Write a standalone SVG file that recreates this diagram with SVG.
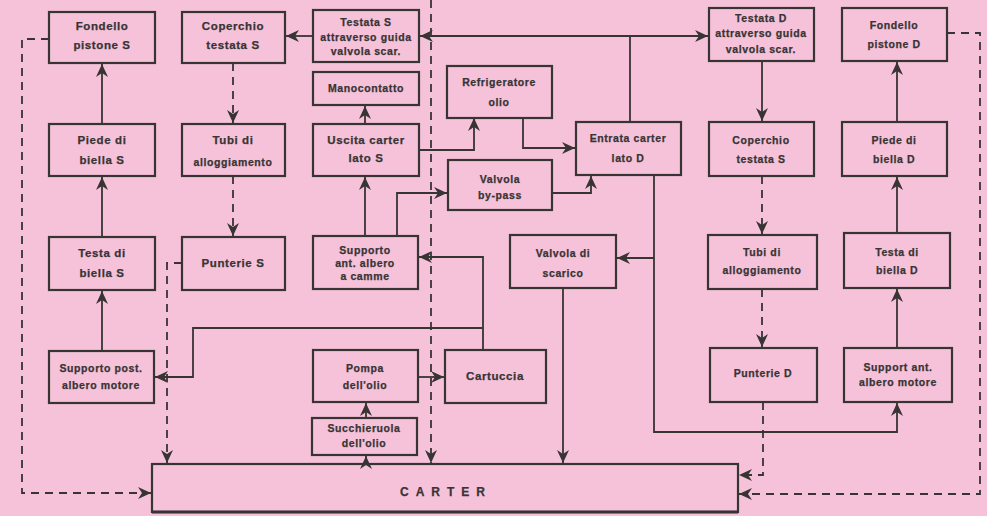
<svg xmlns="http://www.w3.org/2000/svg" width="987" height="516" viewBox="0 0 987 516">
<defs>
<style>
.bg{fill:#f5c2d9}
.box{fill:none;stroke:#383434;stroke-width:2.2}
.ln{fill:none;stroke:#383434;stroke-width:1.8}
.ds{fill:none;stroke:#383434;stroke-width:1.8;stroke-dasharray:8,6}
.t{font-family:"Liberation Sans",Arial,sans-serif;font-weight:bold;font-size:11.5px;fill:#383434;text-anchor:middle;letter-spacing:0.6px;stroke:#383434;stroke-width:0.25}
.ts{font-size:10.5px}
.big{font-size:12px;letter-spacing:7px}
</style>
<marker id="a" markerUnits="userSpaceOnUse" markerWidth="14" markerHeight="12" refX="13" refY="6" orient="auto">
<path d="M0,0 L13,6 L0,12 L4,6 z" fill="#383434"/>
</marker>
</defs>
<rect class="bg" x="0" y="0" width="987" height="516"/>

<g id="connectors">
<path class="ln" d="M102,124 V64" marker-end="url(#a)"/>
<path class="ln" d="M102,237 V177" marker-end="url(#a)"/>
<path class="ln" d="M102,351 V291" marker-end="url(#a)"/>
<path class="ln" d="M313,36 H286" marker-end="url(#a)"/>
<path class="ln" d="M630,122 V36 H420" marker-end="url(#a)"/>
<path class="ln" d="M630,36 H708" marker-end="url(#a)"/>
<path class="ln" d="M762,61 V121" marker-end="url(#a)"/>
<path class="ln" d="M365,124 V106" marker-end="url(#a)"/>
<path class="ln" d="M365,236 V177" marker-end="url(#a)"/>
<path class="ln" d="M419,150 H474 V118" marker-end="url(#a)"/>
<path class="ln" d="M523,117 V148 H575" marker-end="url(#a)"/>
<path class="ln" d="M397,236 V193 H447" marker-end="url(#a)"/>
<path class="ln" d="M552,193 H591 V176" marker-end="url(#a)"/>
<path class="ln" d="M654,175 V432 H897 V403" marker-end="url(#a)"/>
<path class="ln" d="M654,258 H617" marker-end="url(#a)"/>
<path class="ln" d="M563,288 V463" marker-end="url(#a)"/>
<path class="ln" d="M483,350 V257 H419" marker-end="url(#a)"/>
<path class="ln" d="M483,328 H193 V377 H155" marker-end="url(#a)"/>
<path class="ln" d="M418,377 H444" marker-end="url(#a)"/>
<path class="ln" d="M366,418 V403" marker-end="url(#a)"/>
<path class="ln" d="M366,464 V456" marker-end="url(#a)"/>
<path class="ln" d="M897,122 V62" marker-end="url(#a)"/>
<path class="ln" d="M897,233 V177" marker-end="url(#a)"/>
<path class="ln" d="M897,348 V289" marker-end="url(#a)"/>

<path class="ds" d="M49,39 H22 V493 H151" marker-end="url(#a)"/>
<path class="ds" d="M233,63 V123" marker-end="url(#a)"/>
<path class="ds" d="M233,176 V236" marker-end="url(#a)"/>
<path class="ds" d="M182,263 H167 V463" marker-end="url(#a)"/>
<path class="ds" d="M431,0 V463" marker-end="url(#a)"/>
<path class="ds" d="M762,176 V234" marker-end="url(#a)"/>
<path class="ds" d="M762,289 V347" marker-end="url(#a)"/>
<path class="ds" d="M763,402 V475 H739" marker-end="url(#a)"/>
<path class="ds" d="M947,33 H980 V494 H739" marker-end="url(#a)"/>
</g>

<g id="fondello-s"><rect class="box" x="49" y="12" width="106" height="51"/><text class="t" x="102" y="30">Fondello</text><text class="t" x="102" y="49">pistone S</text></g>
<g id="piede-s"><rect class="box" x="49" y="124" width="106" height="52"/><text class="t" x="102" y="144">Piede di</text><text class="t" x="102" y="164">biella S</text></g>
<g id="testa-s"><rect class="box" x="49" y="237" width="106" height="53"/><text class="t" x="102" y="257">Testa di</text><text class="t" x="102" y="277">biella S</text></g>
<g id="supporto-post"><rect class="box" x="49" y="351" width="105" height="52"/><text class="t ts" x="101" y="372">Supporto post.</text><text class="t ts" x="101" y="389">albero motore</text></g>

<g id="coperchio-s"><rect class="box" x="182" y="12" width="103" height="51"/><text class="t" x="233" y="30">Coperchio</text><text class="t" x="233" y="49">testata  S</text></g>
<g id="tubi-s"><rect class="box" x="182" y="124" width="103" height="52"/><text class="t" x="233" y="144">Tubi di</text><text class="t ts" x="233" y="166">alloggiamento</text></g>
<g id="punterie-s"><rect class="box" x="182" y="237" width="103" height="53"/><text class="t" x="233" y="267">Punterie S</text></g>

<g id="testata-s"><rect class="box" x="313" y="10" width="106" height="52"/><text class="t ts" x="366" y="26">Testata S</text><text class="t ts" x="366" y="41">attraverso guida</text><text class="t ts" x="366" y="55">valvola scar.</text></g>
<g id="manocontatto"><rect class="box" x="313" y="72" width="106" height="33"/><text class="t ts" x="366" y="92">Manocontatto</text></g>
<g id="uscita"><rect class="box" x="313" y="124" width="106" height="52"/><text class="t" x="366" y="144">Uscita carter</text><text class="t" x="366" y="162">lato S</text></g>
<g id="supporto-camme"><rect class="box" x="313" y="236" width="105" height="53"/><text class="t ts" x="365" y="254">Supporto</text><text class="t ts" x="365" y="267">ant. albero</text><text class="t ts" x="365" y="280">a camme</text></g>
<g id="pompa"><rect class="box" x="313" y="350" width="105" height="52"/><text class="t ts" x="365" y="372">Pompa</text><text class="t ts" x="365" y="389">dell'olio</text></g>
<g id="succhieruola"><rect class="box" x="312" y="418" width="105" height="37"/><text class="t ts" x="364" y="432">Succhieruola</text><text class="t ts" x="364" y="447">dell'olio</text></g>

<g id="refrigeratore"><rect class="box" x="447" y="66" width="105" height="52"/><text class="t ts" x="499" y="86">Refrigeratore</text><text class="t ts" x="499" y="106">olio</text></g>
<g id="bypass"><rect class="box" x="448" y="160" width="104" height="50"/><text class="t ts" x="500" y="183">Valvola</text><text class="t ts" x="500" y="199">by-pass</text></g>
<g id="cartuccia"><rect class="box" x="445" y="350" width="101" height="53"/><text class="t" x="495" y="380">Cartuccia</text></g>
<g id="scarico"><rect class="box" x="510" y="235" width="106" height="53"/><text class="t ts" x="563" y="257">Valvola di</text><text class="t ts" x="563" y="277">scarico</text></g>
<g id="entrata"><rect class="box" x="576" y="122" width="105" height="53"/><text class="t ts" x="628" y="142">Entrata carter</text><text class="t ts" x="628" y="162">lato D</text></g>

<g id="testata-d"><rect class="box" x="709" y="8" width="105" height="53"/><text class="t ts" x="761" y="22">Testata D</text><text class="t ts" x="761" y="37">attraverso guida</text><text class="t ts" x="761" y="53">valvola scar.</text></g>
<g id="coperchio-d"><rect class="box" x="709" y="122" width="105" height="54"/><text class="t ts" x="761" y="144">Coperchio</text><text class="t ts" x="761" y="163">testata  S</text></g>
<g id="tubi-d"><rect class="box" x="708" y="235" width="109" height="54"/><text class="t ts" x="762" y="256">Tubi di</text><text class="t ts" x="762" y="274">alloggiamento</text></g>
<g id="punterie-d"><rect class="box" x="710" y="348" width="107" height="54"/><text class="t ts" x="763" y="377">Punterie D</text></g>

<g id="fondello-d"><rect class="box" x="842" y="8" width="105" height="53"/><text class="t ts" x="894" y="29">Fondello</text><text class="t ts" x="894" y="48">pistone D</text></g>
<g id="piede-d"><rect class="box" x="842" y="122" width="105" height="54"/><text class="t ts" x="894" y="144">Piede di</text><text class="t ts" x="894" y="163">biella D</text></g>
<g id="testa-d"><rect class="box" x="844" y="233" width="106" height="55"/><text class="t ts" x="897" y="256">Testa di</text><text class="t ts" x="897" y="274">biella D</text></g>
<g id="support-ant"><rect class="box" x="844" y="348" width="108" height="54"/><text class="t ts" x="898" y="371">Support ant.</text><text class="t ts" x="898" y="386">albero motore</text></g>

<g id="carter"><rect class="box" x="152" y="464" width="586" height="48"/><line x1="152" y1="512" x2="738" y2="512" stroke="#383434" stroke-width="3"/><text class="t big" x="446" y="496">CARTER</text></g>
</svg>
